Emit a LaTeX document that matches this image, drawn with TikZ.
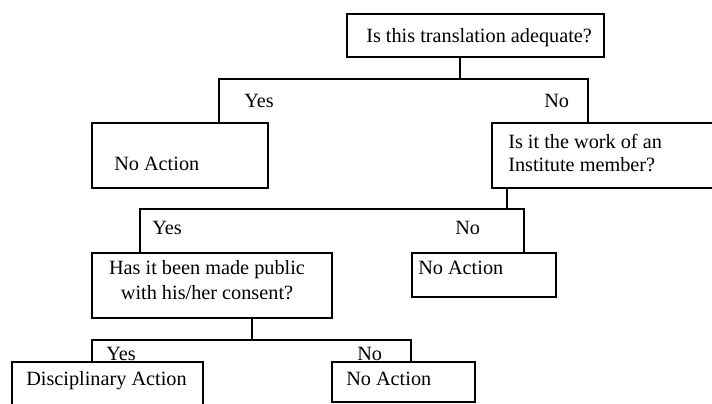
\documentclass[tikz,border=0pt]{standalone}
\usepackage{fontspec}
\setmainfont{Liberation Serif}

\begin{document}
\begin{tikzpicture}[x=0.75pt,y=-0.75pt,
        font=\fontsize{15.2}{18}\selectfont,
        box/.style={draw, line width=1.3pt, anchor=north west, inner sep=0pt, outer sep=0pt},
        txt/.style={anchor=base west, inner sep=0pt},
        txtc/.style={anchor=base, inner sep=0pt},
        branch/.style={line width=1.3pt}]
            \clip (0,0) rectangle (712,403);
            % boxes
            \node[box, minimum width=192.75pt, minimum height=32.25pt] (q1) at (347,14) {};
            \node[box, minimum width=132pt, minimum height=48.75pt] (noact1) at (92,123) {};
            \node[box, minimum width=168pt, minimum height=48.75pt] (q2) at (492,123) {};
            \node[box, minimum width=180pt, minimum height=48.75pt] (q3) at (92,253) {};
            \node[box, minimum width=108pt, minimum height=33pt] (noact2) at (412,253) {};
            \node[box, minimum width=143.25pt, minimum height=33pt] (disc) at (12,362) {};
            \node[box, minimum width=107.25pt, minimum height=30pt] (noact3) at (332,362) {};
            % texts
            \node[txt] (q1t) at (366,43) {Is this translation adequate?};
            \node[txt] (noact1t) at (114,170) {No Action};
            \node[txt] (q2ta) at (508,148) {Is it the work of an};
            \node[txt] (q2tb) at (508,171) {Institute member?};
            \node[txtc] (q3ta) at (207,274) {Has it been made public};
            \node[txtc] (q3tb) at (207,299) {with his/her consent?};
            \node[txt] (noact2t) at (418,274) {No Action};
            \node[txt] (disct) at (26,385) {Disciplinary Action};
            \node[txt] (noact3t) at (346,385) {No Action};
            % branches
            \coordinate (j1) at (460,79);
            \coordinate (j2) at (507,209);
            \coordinate (j3) at (252,340);
            \draw[branch] (q1.south -| j1) -- (j1);
            \draw[branch] (noact1.north -| 219,0) |- (j1) -| (q2.north -| 588,0);
            \draw[branch] (q2.south -| j2) -- (j2);
            \draw[branch] (q3.north -| 140,0) |- (j2) -| (noact2.north -| 524,0);
            \draw[branch] (q3.south -| j3) -- (j3);
            \draw[branch] (disc.north -| 92,0) |- (j3) -| (noact3.north -| 411,0);
            % answers
            \node[txt] (yes1) at (244,107) {Yes};
            \node[txt] (no1) at (544,107) {No};
            \node[txt] (yes2) at (152,234) {Yes};
            \node[txt] (no2) at (455,234) {No};
            \node[txt] (yes3) at (106,360) {Yes};
            \node[txt] (no3) at (357,360) {No};
\end{tikzpicture}
\end{document}
